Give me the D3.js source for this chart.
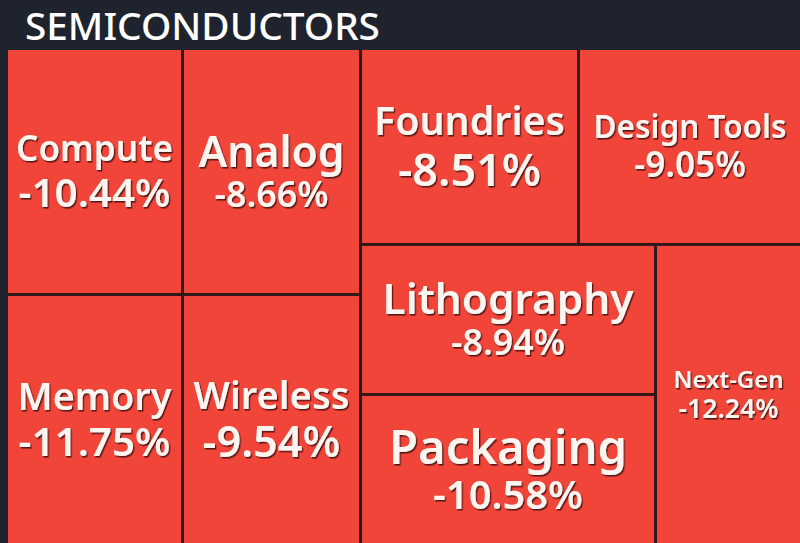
<!DOCTYPE html>
<html>
<head>
<meta charset="utf-8">
<script src="https://cdn.jsdelivr.net/npm/d3@7"></script>
<style>
html, body { margin: 0; padding: 0; background: #1e232e; }
svg { display: block; }
text { font-family: "Noto Sans", sans-serif; }
</style>
</head>
<body>
<div id="chart"></div>
<script>
//data
const title = "SEMICONDUCTORS";
const sectors = ["Compute", "Memory", "Analog", "Wireless", "Foundries", "Design Tools", "Lithography", "Packaging", "Next-Gen"];
const changes = [-10.44, -11.75, -8.66, -9.54, -8.51, -9.05, -8.94, -10.58, -12.24];
const weights = [43.3, 44.0, 43.8, 44.5, 42.7, 43.7, 44.25, 44.25, 43.8];

//how wide the two text lines come out in each box (name, percent)
const fitWidth = {
    "Compute": [157, 152],
    "Memory": [154, 152],
    "Analog": [146, 114],
    "Wireless": [156, 138],
    "Foundries": [191, 143],
    "Design Tools": [193, 112],
    "Lithography": [251, 114],
    "Packaging": [238, 150],
    "Next-Gen": [110, 100]
};

const width = 800, height = 543;
const mapBox = { x: 8, y: 50, w: 792, h: 493 };

var svg = d3.select("#chart").append("svg")
    .attr("width", width)
    .attr("height", height);

var defs = svg.append("defs");
var shadow = defs.append("filter")
    .attr("id", "shadow")
    .attr("x", "-10%").attr("y", "-20%")
    .attr("width", "130%").attr("height", "150%");
shadow.append("feDropShadow")
    .attr("dx", 1.3)
    .attr("dy", 1.6)
    .attr("stdDeviation", 0.6)
    .attr("flood-color", "#3d0f0b")
    .attr("flood-opacity", 0.85);

svg.append("rect")
    .attr("width", width)
    .attr("height", height)
    .attr("fill", "#1e232e");

//title
var titleText = svg.append("text")
    .attr("x", 25)
    .attr("y", 40)
    .attr("fill", "#ffffff")
    .attr("font-size", 38)
    .attr("font-weight", 500)
    .text(title);
var tw = titleText.node().getComputedTextLength();
titleText.attr("font-size", 38 * 355 / tw);

//dark back behind the boxes shows through as the gaps
svg.append("rect")
    .attr("x", mapBox.x)
    .attr("y", mapBox.y)
    .attr("width", mapBox.w)
    .attr("height", mapBox.h)
    .attr("fill", "#33181a");

var root = d3.hierarchy({
    children: sectors.map((s, i) => ({ name: s, change: changes[i], weight: weights[i] }))
}).sum(d => d.weight);

d3.treemap()
    .size([mapBox.w, mapBox.h])
    .paddingInner(3)
    .tile(d3.treemapSquarify.ratio(1))(root);

var cells = svg.append("g")
    .attr("transform", "translate(" + mapBox.x + "," + mapBox.y + ")")
    .selectAll("g")
    .data(root.leaves())
    .enter().append("g")
    .attr("transform", d => "translate(" + d.x0 + "," + d.y0 + ")");

cells.append("rect")
    .attr("width", d => d.x1 - d.x0)
    .attr("height", d => d.y1 - d.y0)
    .attr("fill", "#f2453a");

cells.each(function (d) {
    var g = d3.select(this);
    var w = d.x1 - d.x0, h = d.y1 - d.y0;
    var fit = fitWidth[d.data.name];

    var name = g.append("text")
        .attr("text-anchor", "middle")
        .attr("fill", "#fdf5f0")
        .attr("font-weight", 600)
        .attr("font-size", 20)
        .attr("filter", "url(#shadow)")
        .text(d.data.name);
    var nameSize = 20 * fit[0] / name.node().getComputedTextLength();
    name.attr("font-size", nameSize);

    var pct = g.append("text")
        .attr("text-anchor", "middle")
        .attr("fill", "#fdf5f0")
        .attr("font-weight", 600)
        .attr("font-size", 20)
        .attr("filter", "url(#shadow)")
        .text(d.data.change.toFixed(2) + "%");
    var pctSize = 20 * fit[1] / pct.node().getComputedTextLength();
    pct.attr("font-size", pctSize);

    //centre the two lines as one block
    var gap = 1.12 * pctSize;
    var blockH = 0.71 * nameSize + gap;
    var base = h / 2 - blockH / 2 + 0.71 * nameSize;
    name.attr("x", w / 2).attr("y", base);
    pct.attr("x", w / 2).attr("y", base + gap);
});
</script>
</body>
</html>
